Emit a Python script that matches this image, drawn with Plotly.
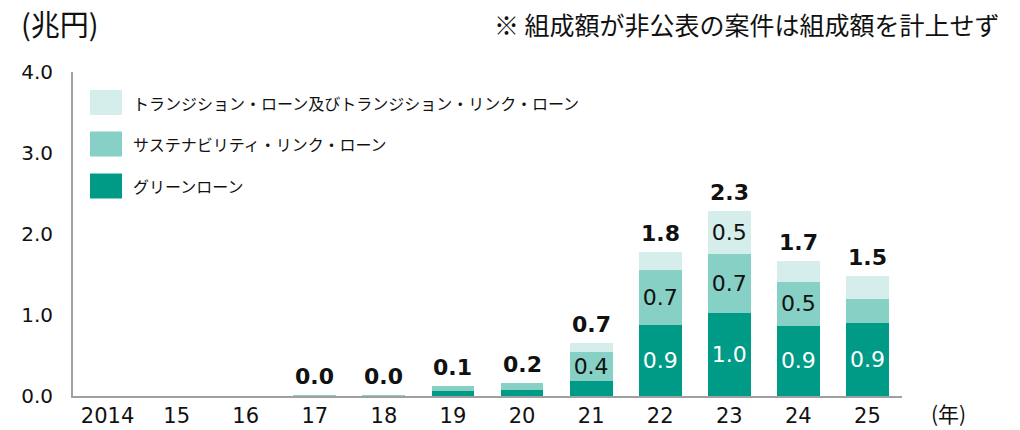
import plotly.graph_objects as go

years = ["2014", "15", "16", "17", "18", "19", "20", "21", "22", "23", "24", "25"]
green_loan = [0, 0, 0, 0, 0, 0.06, 0.08, 0.18, 0.88, 1.02, 0.87, 0.90]
sll = [0, 0, 0, 0.01, 0.01, 0.06, 0.08, 0.36, 0.68, 0.73, 0.54, 0.30]
transition = [0, 0, 0, 0, 0, 0, 0, 0.12, 0.22, 0.54, 0.26, 0.28]

series_names = ["グリーンローン", "サステナビリティ・リンク・ローン", "トランジション・ローン及びトランジション・リンク・ローン"]
colors = ["#009B87", "#86D0C5", "#D5EEEB"]
inside_colors = ["#FFFFFF", "#111111", "#111111"]
LABEL_MIN = 0.33

NUM_FONT = "DejaVu Sans, Verdana, sans-serif"
JP_FONT = "Noto Sans CJK JP, sans-serif"

W, H = 1020, 430
L, R, T, B = 73, 902, 72, 396  # plot area in pixels


def px(x):
    return (x - L) / (R - L)


def py(y):
    return (B - y) / (B - T)


fig = go.Figure()
for vals, name, col, tcol in zip([green_loan, sll, transition], series_names, colors, inside_colors):
    texts = [f"{v:.1f}" if v >= LABEL_MIN else "" for v in vals]
    fig.add_trace(go.Bar(
        x=years, y=vals, name=name, marker=dict(color=col, line=dict(width=0)),
        text=texts, textposition="inside", insidetextanchor="middle",
        textangle=0, constraintext="none",
        textfont=dict(family=NUM_FONT, size=22, color=tcol),
        showlegend=False, hoverinfo="skip",
    ))

totals = [g + s + t for g, s, t in zip(green_loan, sll, transition)]
annotations = []
for i, tot in enumerate(totals):
    if tot > 0:
        annotations.append(dict(
            x=i, y=tot, xref="x", yref="y", text=f"<b>{tot:.1f}</b>",
            showarrow=False, yanchor="bottom", yshift=4,
            font=dict(family=NUM_FONT, size=22, color="#111111"),
        ))

# custom legend (top to bottom: transition, sll, green)
shapes = []
leg_rows = [(102.5, 2), (144, 1), (186, 0)]
for yc, idx in leg_rows:
    shapes.append(dict(type="rect", xref="paper", yref="paper",
                       x0=px(90), x1=px(122), y0=py(yc + 12.5), y1=py(yc - 12.5),
                       fillcolor=colors[idx], line=dict(width=0)))
    annotations.append(dict(x=px(131), y=py(yc), xref="paper", yref="paper",
                            text=series_names[idx], showarrow=False,
                            xanchor="left", yanchor="middle",
                            font=dict(family=JP_FONT, size=16, color="#111111")))

annotations.append(dict(x=px(19), y=py(23), xref="paper", yref="paper", text="(兆円)",
                        showarrow=False, xanchor="left", yanchor="middle",
                        font=dict(family=JP_FONT, size=29, color="#111111")))
annotations.append(dict(x=px(1002), y=py(24), xref="paper", yref="paper",
                        text="※ 組成額が非公表の案件は組成額を計上せず",
                        showarrow=False, xanchor="right", yanchor="middle",
                        font=dict(family=JP_FONT, size=25, color="#111111")))
annotations.append(dict(x=px(929), y=py(413), xref="paper", yref="paper", text="(年)",
                        showarrow=False, xanchor="left", yanchor="middle",
                        font=dict(family=JP_FONT, size=21, color="#111111")))

fig.update_layout(
    width=W, height=H,
    margin=dict(l=L, r=W - R, t=T, b=H - B, pad=0, autoexpand=False),
    barmode="stack", bargap=0.38,
    plot_bgcolor="white", paper_bgcolor="white",
    annotations=annotations, shapes=shapes,
    xaxis=dict(type="category", range=[-0.5, len(years) - 0.5], showgrid=False,
               showline=True, linecolor="#A0A0A0", automargin=False,
               linewidth=2, ticks="", ticklabelstandoff=0, tickangle=0,
               tickfont=dict(family=NUM_FONT, size=21, color="#111111")),
    yaxis=dict(range=[0, 4], tickvals=[0, 1, 2, 3, 4], ticktext=["0.0", "1.0", "2.0", "3.0", "4.0"],
               showgrid=False, showline=True, linecolor="#A0A0A0", linewidth=2, automargin=False,
               ticks="", ticklabelstandoff=14, zeroline=False,
               tickfont=dict(family=NUM_FONT, size=20, color="#111111")),
)

fig.write_html("out.html", config={"displayModeBar": False},
               post_script="document.body.style.margin='0';document.body.style.padding='0';")
